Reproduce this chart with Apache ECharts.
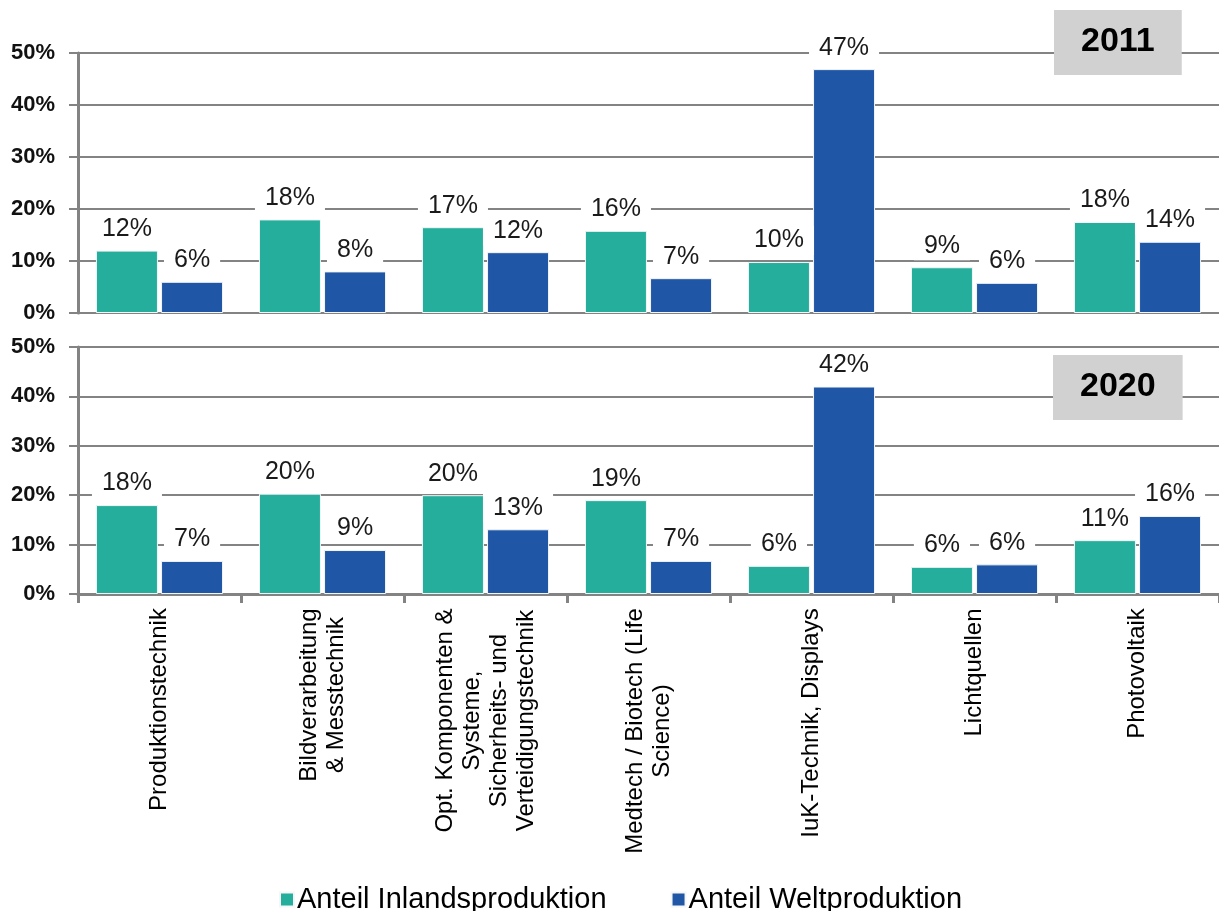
<!DOCTYPE html>
<html>
<head>
<meta charset="utf-8">
<script src="https://cdn.jsdelivr.net/npm/echarts@6/dist/echarts.min.js"></script>
<style>
  html, body { margin: 0; padding: 0; background: #fff; }
  #chart { width: 1219px; height: 911px; }
</style>
</head>
<body>
<div id="chart"></div>
<script>
// categories (line breaks as in the original labels)
const categories = [
  'Produktionstechnik',
  'Bildverarbeitung\n& Messtechnik',
  'Opt. Komponenten &\nSysteme,\nSicherheits- und\nVerteidigungstechnik',
  'Medtech / Biotech (Life\nScience)',
  'IuK-Technik, Displays',
  'Lichtquellen',
  'Photovoltaik'
];
const seriesNames = ['Anteil Inlandsproduktion', 'Anteil Weltproduktion'];
const years = ['2011', '2020'];

// values in %
const inland2011 = [12, 18, 16.5, 15.8, 9.8, 8.8, 17.5];
const welt2011   = [6, 8, 11.7, 6.7, 46.9, 5.8, 13.7];
const inland2020 = [18, 20.3, 20, 19, 5.7, 5.5, 10.9];
const welt2020   = [6.7, 8.9, 13.1, 6.7, 42, 6, 15.8];

const FONT = '"Liberation Sans", Arial, sans-serif';
const TEAL = '#25ae9b';
const BLUE = '#1f56a5';
const GRID_GREY = '#838383';

// measure longest line per category so the rotated lines can be centred
const ctx = document.createElement('canvas').getContext('2d');
ctx.font = '24px ' + FONT;
const rich = {};
categories.forEach((c, i) => {
  const w = Math.max(...c.split('\n').map(s => ctx.measureText(s).width));
  rich['c' + i] = { width: Math.ceil(w) + 2, align: 'center', fontSize: 24, lineHeight: 27, color: '#000', fontFamily: FONT };
});

const chart = echarts.init(document.getElementById('chart'));

function yAxis(gridIndex) {
  return {
    type: 'value', gridIndex: gridIndex, min: 0, max: 50, interval: 10,
    axisLine: { show: true, lineStyle: { color: GRID_GREY, width: 3 } },
    axisTick: { show: true, length: 9, lineStyle: { color: GRID_GREY, width: 2 } },
    splitLine: { lineStyle: { color: GRID_GREY, width: 2 } },
    axisLabel: { formatter: '{value}%', margin: 23, fontSize: 22, fontWeight: 'bold', color: '#111', fontFamily: FONT }
  };
}

function barSeries(name, data, idx, color) {
  return {
    name: name, type: 'bar', xAxisIndex: idx, yAxisIndex: idx,
    data: data, barWidth: 62, barGap: '5%',
    itemStyle: { color: color, borderColor: '#f4f6f8', borderWidth: 1 },
    label: {
      show: true, position: 'top', distance: 7,
      formatter: p => Math.round(p.value) + '%',
      fontSize: 25, color: '#1a1a1a', fontFamily: FONT,
      backgroundColor: '#fff', padding: [2, 10]
    }
  };
}

const option = {
  backgroundColor: '#fff',
  animation: false,
  textStyle: { fontFamily: FONT },
  title: [
    { text: years[0], left: 1054, top: 10, backgroundColor: '#d1d1d1', padding: [15, 27, 16, 27],
      textStyle: { fontSize: 34, fontWeight: 'bold', color: '#000', fontFamily: FONT } },
    { text: years[1], left: 1053, top: 355, backgroundColor: '#d1d1d1', padding: [15, 27, 16, 27],
      textStyle: { fontSize: 34, fontWeight: 'bold', color: '#000', fontFamily: FONT } }
  ],
  legend: {
    data: seriesNames, left: 274, top: 880, itemWidth: 14, itemHeight: 14, itemGap: 64,
    icon: 'rect',
    textStyle: { fontSize: 29, color: '#000', fontFamily: FONT, padding: [0, 0, 0, -2] }
  },
  grid: [
    { left: 78, top: 53, width: 1148, height: 260 },
    { left: 78, top: 347, width: 1148, height: 247 }
  ],
  xAxis: [
    { type: 'category', gridIndex: 0, data: categories,
      axisLine: { lineStyle: { color: GRID_GREY, width: 2 } },
      axisTick: { show: false }, axisLabel: { show: false } },
    { type: 'category', gridIndex: 1, data: categories,
      axisLine: { lineStyle: { color: GRID_GREY, width: 3 } },
      axisTick: { show: true, length: 9, lineStyle: { color: GRID_GREY, width: 3 } },
      axisLabel: {
        interval: 0, rotate: 90, margin: 13,
        formatter: (v, i) => v.split('\n').map(s => '{c' + i + '|' + s + '}').join('\n'),
        rich: rich
      } }
  ],
  yAxis: [yAxis(0), yAxis(1)],
  series: [
    barSeries(seriesNames[0], inland2011, 0, TEAL),
    barSeries(seriesNames[1], welt2011, 0, BLUE),
    barSeries(seriesNames[0], inland2020, 1, TEAL),
    barSeries(seriesNames[1], welt2020, 1, BLUE)
  ]
};

chart.setOption(option);
</script>
</body>
</html>
